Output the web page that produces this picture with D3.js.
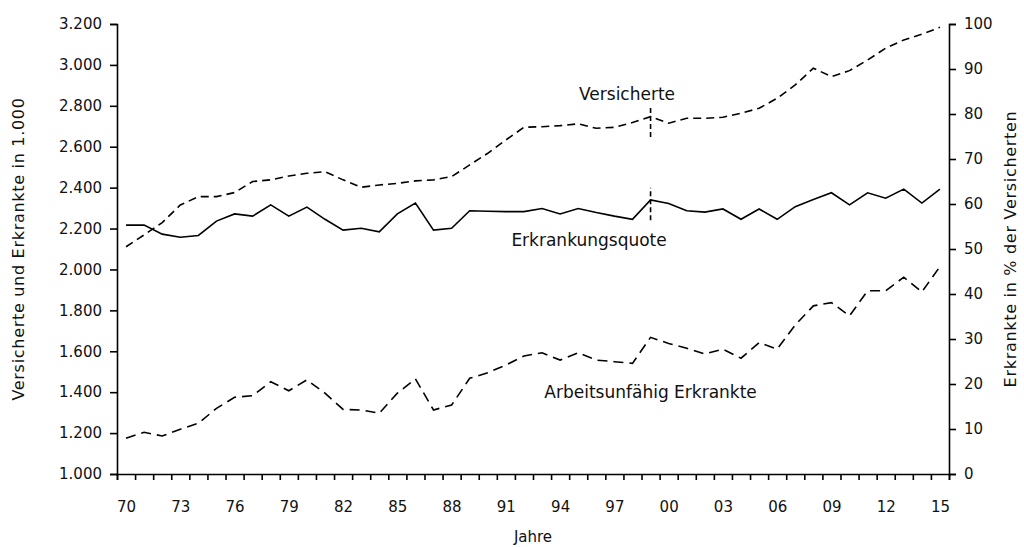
<html lang="de">
<head>
<meta charset="UTF-8">
<title>Versicherte und Erkrankte</title>
<style>
  body { margin: 0; background: #fff; }
  text { font-family: "DejaVu Sans", sans-serif; fill: #111; }
  .axis path, .axis line { stroke: #000; stroke-width: 1.6; }
  .axis text { font-size: 15px; }
</style>
</head>
<body>
<div id="chart"></div>
<script src="https://d3js.org/d3.v7.min.js"></script>
<script>
// years 1970..2015
const years = d3.range(1970, 2016)
const yearLabels = ['70','73','76','79','82','85','88','91','94','97','00','03','06','09','12','15']

// Versicherte in 1.000 (left axis)
const versicherte = [2111, 2169, 2229, 2315, 2356, 2356, 2376, 2430, 2438, 2457,
  2470, 2478, 2438, 2402, 2413, 2421, 2433, 2438, 2454, 2511,
  2568, 2633, 2695, 2698, 2703, 2712, 2690, 2695, 2718, 2747,
  2715, 2739, 2739, 2744, 2764, 2788, 2837, 2902, 2984, 2943,
  2972, 3024, 3082, 3122, 3150, 3184]

// Arbeitsunfähig Erkrankte in 1.000 (left axis)
const erkrankte = [1175, 1204, 1186, 1219, 1248, 1321, 1375, 1383, 1451, 1407,
  1460, 1395, 1316, 1313, 1297, 1395, 1465, 1313, 1337, 1468,
  1495, 1533, 1577, 1593, 1557, 1593, 1557, 1549, 1541, 1668,
  1638, 1615, 1587, 1610, 1566, 1642, 1611, 1729, 1822, 1838,
  1773, 1896, 1896, 1962, 1890, 2014]

// Erkrankungsquote in % (right axis)
const quote = [55.3, 55.3, 53.3, 52.6, 53.0, 56.2, 57.8, 57.3, 59.8, 57.3,
  59.3, 56.6, 54.2, 54.6, 53.8, 57.8, 60.2, 54.2, 54.6, 58.5,
  58.4, 58.3, 58.3, 59.0, 57.8, 59.0, 58.1, 57.3, 56.6, 60.9,
  60.1, 58.5, 58.2, 58.9, 56.6, 58.9, 56.6, 59.4, 61.0, 62.5,
  59.8, 62.5, 61.3, 63.3, 60.2, 63.3]

const leftTicks = d3.range(1000, 3201, 200)
const rightTicks = d3.range(0, 101, 10)

// break marker (1999)
const breakYear = 1999
const breakVersicherte = [2648, 2800]
const breakQuote = [56.4, 63.6]

const width = 1024, height = 547
const margin = {top: 24, right: 75, bottom: 73, left: 117}
const w = width - margin.left - margin.right
const h = height - margin.top - margin.bottom

const svg = d3.select('#chart').append('svg')
  .attr('width', width).attr('height', height)
const g = svg.append('g')
  .attr('transform', 'translate(' + margin.left + ',' + margin.top + ')')

const x = d3.scaleLinear().domain([1969.5, 2015.5]).range([0, w])
const yL = d3.scaleLinear().domain([1000, 3200]).range([h, 0])
const yR = d3.scaleLinear().domain([0, 100]).range([h, 0])

const fmt = d => d3.format(',')(d).replace(',', '.')

// axes
g.append('g').attr('class', 'axis')
  .call(d3.axisLeft(yL).tickValues(leftTicks).tickFormat(fmt).tickSizeOuter(0).tickSize(7).tickPadding(8))
g.append('g').attr('class', 'axis')
  .attr('transform', 'translate(' + w + ',0)')
  .call(d3.axisRight(yR).tickValues(rightTicks).tickSizeOuter(0).tickSize(7).tickPadding(8))
g.append('g').attr('class', 'axis')
  .attr('transform', 'translate(0,' + h + ')')
  .call(d3.axisBottom(x).tickValues(d3.range(1969.5, 2016, 1)).tickFormat('').tickSizeOuter(0).tickSize(6))
g.append('g').attr('class', 'axis')
  .attr('transform', 'translate(0,' + h + ')')
  .call(d3.axisBottom(x).tickValues(years.filter((d, i) => i % 3 === 0))
    .tickFormat((d, i) => yearLabels[i]).tickSize(0).tickPadding(27))
  .call(a => a.select('.domain').remove())

// axis titles
svg.append('text')
  .attr('transform', 'translate(24,' + (margin.top + h / 2) + ') rotate(-90)')
  .attr('text-anchor', 'middle').style('font-size', '16px').style('letter-spacing', '0.7px')
  .text('Versicherte und Erkrankte in 1.000')
svg.append('text')
  .attr('transform', 'translate(1016,' + (margin.top + h / 2) + ') rotate(-90)')
  .attr('text-anchor', 'middle').style('font-size', '16px').style('letter-spacing', '0.7px')
  .text('Erkrankte in % der Versicherten')
svg.append('text')
  .attr('x', margin.left + w / 2).attr('y', 542)
  .attr('text-anchor', 'middle').style('font-size', '15px')
  .text('Jahre')

// lines
const lineL = d3.line().x((d, i) => x(years[i])).y(d => yL(d))
const lineR = d3.line().x((d, i) => x(years[i])).y(d => yR(d))

g.append('path').datum(versicherte)
  .attr('d', lineL).attr('fill', 'none').attr('stroke', '#000')
  .attr('stroke-width', 1.6).attr('stroke-dasharray', '8,5')
g.append('path').datum(erkrankte)
  .attr('d', lineL).attr('fill', 'none').attr('stroke', '#000')
  .attr('stroke-width', 1.6).attr('stroke-dasharray', '10,6')
g.append('path').datum(quote)
  .attr('d', lineR).attr('fill', 'none').attr('stroke', '#000')
  .attr('stroke-width', 1.6)

// break markers
g.append('line')
  .attr('x1', x(breakYear)).attr('x2', x(breakYear))
  .attr('y1', yL(breakVersicherte[0])).attr('y2', yL(breakVersicherte[1]))
  .attr('stroke', '#000').attr('stroke-width', 1.6).attr('stroke-dasharray', '5,3')
g.append('line')
  .attr('x1', x(breakYear)).attr('x2', x(breakYear))
  .attr('y1', yR(breakQuote[0])).attr('y2', yR(breakQuote[1]))
  .attr('stroke', '#000').attr('stroke-width', 1.6).attr('stroke-dasharray', '5,3')

// series labels
const labels = [
  {text: 'Versicherte', year: 1997.7, v: 2830, axis: 'L'},
  {text: 'Erkrankungsquote', year: 1995.6, v: 50.7, axis: 'R'},
  {text: 'Arbeitsunfähig Erkrankte', year: 1999, v: 1372, axis: 'L'}
]
g.selectAll('.lbl').data(labels).enter().append('text')
  .attr('class', 'lbl')
  .attr('x', d => x(d.year))
  .attr('y', d => d.axis === 'L' ? yL(d.v) : yR(d.v))
  .attr('text-anchor', 'middle').style('font-size', '17px')
  .text(d => d.text)
</script>
</body>
</html>
